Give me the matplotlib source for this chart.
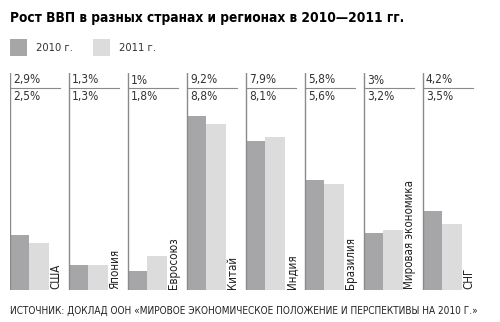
import matplotlib.pyplot as plt

regions = ["США", "Япония", "Евросоюз", "Китай", "Индия", "Бразилия",
           "Мировая экономика", "СНГ"]
gdp_2010 = [2.9, 1.3, 1.0, 9.2, 7.9, 5.8, 3.0, 4.2]
gdp_2011 = [2.5, 1.3, 1.8, 8.8, 8.1, 5.6, 3.2, 3.5]
lbl_2010 = ["2,9%", "1,3%", "1%", "9,2%", "7,9%", "5,8%", "3%", "4,2%"]
lbl_2011 = ["2,5%", "1,3%", "1,8%", "8,8%", "8,1%", "5,6%", "3,2%", "3,5%"]

C10 = "#a6a6a9"
C11 = "#dcdcdd"
LINE = "#8a8a8a"
NARROW = ["DejaVu Sans"]

fig = plt.figure(figsize=(5, 3.22), dpi=100)
ax = fig.add_axes([0.02, 1 - 290 / 322, 472 / 500, (290 - 73) / 322])
ymax = (290 - 73) / 18.9
ax.set_xlim(0, len(regions))
ax.set_ylim(0, ymax)
ax.axis("off")

bw = 0.325
for i, name in enumerate(regions):
    ax.bar(i + 0.005, gdp_2010[i], width=bw, align="edge", color=C10, lw=0)
    ax.bar(i + 0.005 + bw, gdp_2011[i], width=bw, align="edge", color=C11, lw=0)
    ax.plot([i, i], [0, ymax], color=LINE, lw=1)
    ax.plot([i, i + 0.85], [(290 - 88) / 18.9] * 2, color=LINE, lw=0.8)
    ax.text(i + 0.05, (290 - 80) / 18.9, lbl_2010[i], fontsize=8.6, family=NARROW,
            fontstretch="condensed", color="#333333", va="center", ha="left")
    ax.text(i + 0.05, (290 - 96.5) / 18.9, lbl_2011[i], fontsize=8.6, family=NARROW,
            fontstretch="condensed", color="#333333", va="center", ha="left")
    ax.text(i + 0.77, 0.05, name, rotation=90, fontsize=8.3, family=NARROW,
            fontstretch="condensed", color="#222222", va="bottom", ha="center")

fig.text(10 / 500, 1 - 18 / 322, "Рост ВВП в разных странах и регионах в 2010—2011 гг.",
         fontsize=9.8, fontweight="bold", family=NARROW, fontstretch="condensed",
         va="center", ha="left")

# legend
for x0, txt, c in [(10, "2010 г.", C10), (93, "2011 г.", C11)]:
    fig.patches.append(plt.Rectangle((x0 / 500, 1 - 56 / 322), 17 / 500, 17 / 322,
                                     transform=fig.transFigure, color=c, lw=0))
    fig.text((x0 + 26) / 500, 1 - 48 / 322, txt, fontsize=8, family=NARROW,
             fontstretch="condensed", color="#333333", va="center", ha="left")

fig.text(10 / 500, 1 - 311 / 322,
         "ИСТОЧНИК: ДОКЛАД ООН «МИРОВОЕ ЭКОНОМИЧЕСКОЕ ПОЛОЖЕНИЕ И ПЕРСПЕКТИВЫ НА 2010 Г.»",
         fontsize=7.2, family=NARROW, fontstretch="condensed", color="#222222",
         va="center", ha="left")

fig.savefig("out.png", dpi=100)
